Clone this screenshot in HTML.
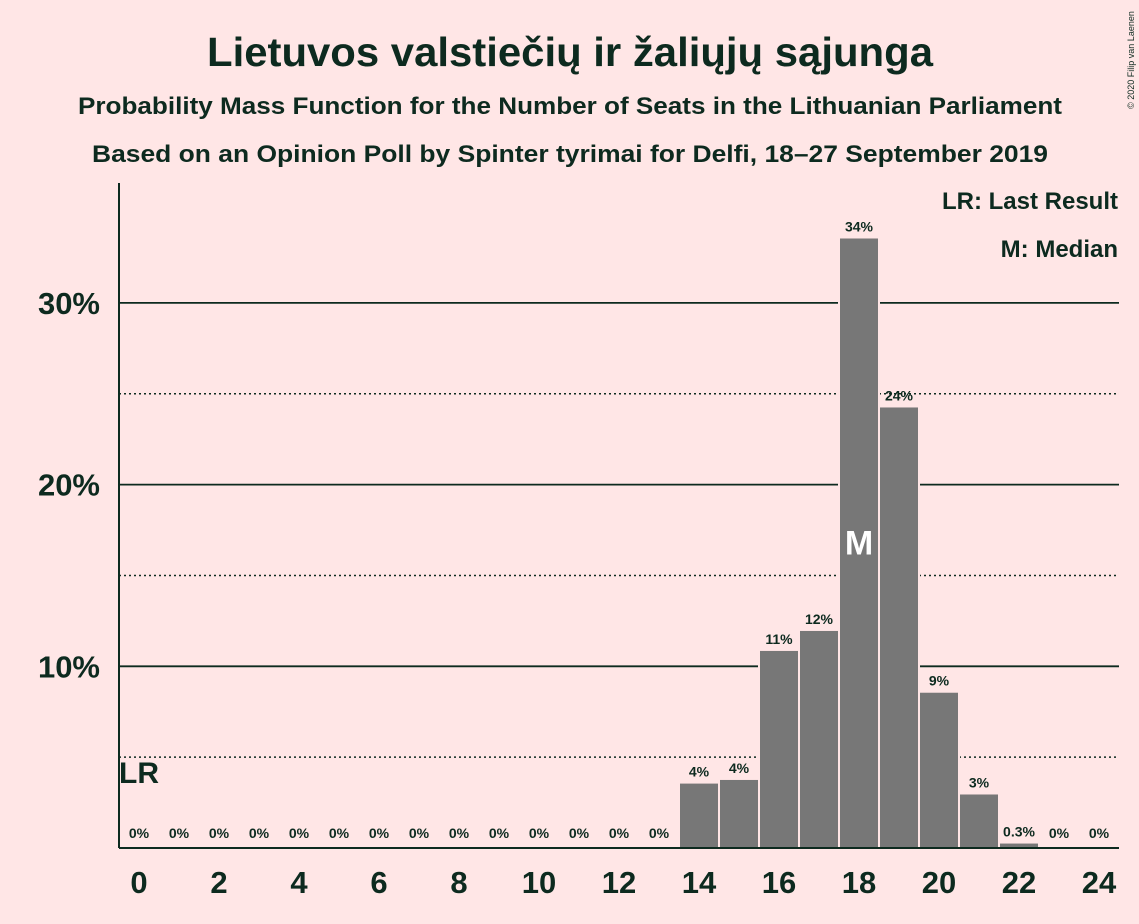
<!DOCTYPE html>
<html><head><meta charset="utf-8"><style>
body{margin:0;background:#ffe6e6;}
svg{display:block;font-family:"Liberation Sans",sans-serif;}
</style></head><body>
<svg id="chart" width="1139" height="924" xmlns="http://www.w3.org/2000/svg">
<rect width="1139" height="924" fill="#ffe6e6"/>
<text x="570" y="66" text-anchor="middle" font-size="41" font-weight="bold" fill="#0d2a1f" textLength="726" lengthAdjust="spacingAndGlyphs">Lietuvos valstiečių ir žaliųjų sąjunga</text>
<text x="570" y="114" text-anchor="middle" font-size="24" font-weight="bold" fill="#0d2a1f" textLength="984" lengthAdjust="spacingAndGlyphs">Probability Mass Function for the Number of Seats in the Lithuanian Parliament</text>
<text x="570" y="162" text-anchor="middle" font-size="24" font-weight="bold" fill="#0d2a1f" textLength="956" lengthAdjust="spacingAndGlyphs">Based on an Opinion Poll by Spinter tyrimai for Delfi, 18–27 September 2019</text>
<text x="1134" y="60" font-size="9" fill="#0d2a1f" transform="rotate(-90 1134 60)" text-anchor="middle">© 2020 Filip van Laenen</text>
<g id="grid"></g>
<g id="bars"></g>
<g id="labels"></g>
<g id="axes"></g>
<text x="1118" y="209" text-anchor="end" font-size="24" font-weight="bold" fill="#0d2a1f">LR: Last Result</text>
<text x="1118" y="257" text-anchor="end" font-size="24" font-weight="bold" fill="#0d2a1f">M: Median</text>
</svg>
<script>
const seats=[0,1,2,3,4,5,6,7,8,9,10,11,12,13,14,15,16,17,18,19,20,21,22,23,24];
const probs=[0,0,0,0,0,0,0,0,0,0,0,0,0,0,3.6,3.8,10.9,12.0,33.6,24.3,8.6,3.0,0.3,0,0];
const valueLabels=["0%","0%","0%","0%","0%","0%","0%","0%","0%","0%","0%","0%","0%","0%","4%","4%","11%","12%","34%","24%","9%","3%","0.3%","0%","0%"];
const yTicks=[10,20,30];
const yDotted=[5,15,25];
const xTicks=[0,2,4,6,8,10,12,14,16,18,20,22,24];
const medianSeat=18;
const lastResult=0;
const NS="http://www.w3.org/2000/svg";
const x=s=>139+s*40;
const y=p=>848-p*18.17;
function mk(tag,attrs,parent,text){const e=document.createElementNS(NS,tag);for(const k in attrs)e.setAttribute(k,attrs[k]);if(text!==undefined)e.textContent=text;document.getElementById(parent).appendChild(e);return e;}
yDotted.forEach(v=>{const l=mk('line',{x1:119,x2:1119,y1:y(v),y2:y(v),stroke:'#0d2a1f','stroke-width':1.5,'stroke-dasharray':'2,3'},'grid');

});
yTicks.forEach(v=>{const l=mk('line',{x1:119,x2:1119,y1:y(v),y2:y(v),stroke:'#0d2a1f','stroke-width':1.8},'grid');


const t=mk('text',{x:100,y:y(v)+11,'text-anchor':'end','font-size':31,'font-weight':'bold',fill:'#0d2a1f'},'axes',v+'%');

});
seats.forEach((s,i)=>{const p=probs[i];
if(p>0){const r=mk('rect',{x:x(s)-20,y:y(p),width:40,height:848-y(p),fill:'#777777',stroke:'#ffe6e6','stroke-width':2},'bars');

}
const t=mk('text',{x:x(s),y:(p>0?y(p)-6:838),'text-anchor':'middle','font-size':14,'font-weight':'bold',fill:'#0d2a1f'},'labels',valueLabels[i]);

});
const mi=seats.indexOf(medianSeat);
const m=mk('text',{x:x(medianSeat),y:y(probs[mi]/2)+12,'text-anchor':'middle','font-size':34,'font-weight':'bold',fill:'#ffffff'},'labels','M');


const lr=mk('text',{x:x(lastResult)-20,y:783,'font-size':30,'font-weight':'bold',fill:'#0d2a1f'},'labels','LR');


const ya=mk('line',{x1:119,x2:119,y1:183,y2:848,stroke:'#0d2a1f','stroke-width':2},'axes');


const xa=mk('line',{x1:119,x2:1119,y1:848,y2:848,stroke:'#0d2a1f','stroke-width':2},'axes');


xTicks.forEach(s=>{const t=mk('text',{x:x(s),y:893,'text-anchor':'middle','font-size':31,'font-weight':'bold',fill:'#0d2a1f'},'axes',String(s));

});
</script>
</body></html>
